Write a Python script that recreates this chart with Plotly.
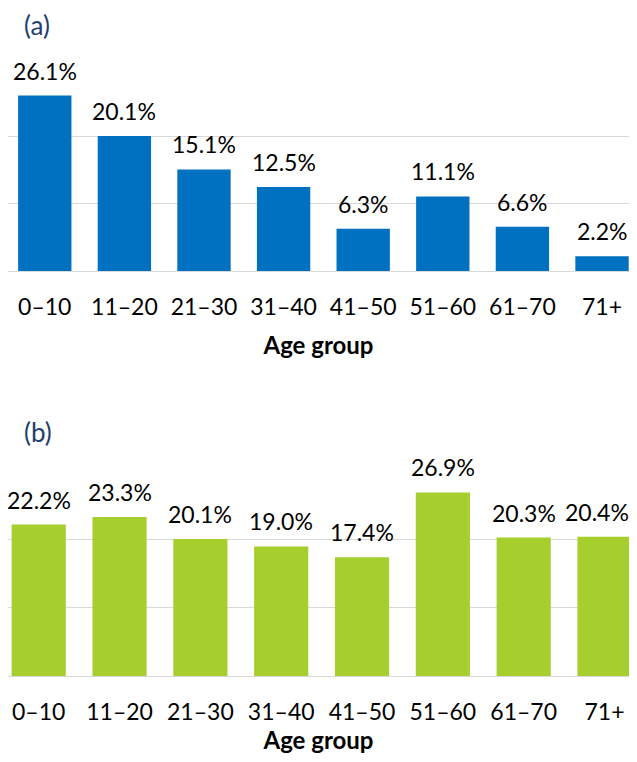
import plotly.graph_objects as go

# age groups and share per group, panel (a) and panel (b)
groups = ["0–10", "11–20", "21–30", "31–40", "41–50", "51–60", "61–70", "71+"]
share_a = [26.1, 20.1, 15.1, 12.5, 6.3, 11.1, 6.6, 2.2]
share_b = [22.2, 23.3, 20.1, 19.0, 17.4, 26.9, 20.3, 20.4]

# page body has an 8px margin, so the figure is sized to fit inside it
W, H = 621, 746
OFF = 8
FONT = "Lato"
FS = 23
GRID = "#D9D9D9"


def py(p):
    # reference pixel row -> paper fraction
    return 1 - (p - OFF) / H


fig = go.Figure()
fig.add_bar(x=groups, y=share_a, marker_color="#0070C0", marker_line_width=0,
            width=0.67, xaxis="x", yaxis="y", showlegend=False)
fig.add_bar(x=groups, y=share_b, marker_color="#A6CE2C", marker_line_width=0,
            width=0.67, xaxis="x2", yaxis="y2", showlegend=False)

# value labels sit above each bar (last one in (b) nudged so it isn't clipped)
for xr, yr, vals in (("x", "y", share_a), ("x2", "y2", share_b)):
    for i, (g, v) in enumerate(zip(groups, vals)):
        fig.add_annotation(x=g, y=v, xref=xr, yref=yr, text=f"{v:.1f}%",
                           showarrow=False, yanchor="bottom", yshift=9,
                           xshift=-8 if (xr == "x2" and i == len(groups) - 1) else 0,
                           font=dict(family=FONT, size=FS, color="#000000"))

for lbl, yc in (("(a)", 25), ("(b)", 432)):
    fig.add_annotation(x=(22 - OFF) / W, y=py(yc), xref="paper", yref="paper",
                       text=lbl, showarrow=False, xanchor="left", yanchor="middle",
                       font=dict(family=FONT, size=26, color="#1F3F6E"))

xcommon = dict(showgrid=False, showline=False, zeroline=False, ticks="",
               automargin=False,
               tickfont=dict(family=FONT, size=FS, color="#000000"),
               ticklabelstandoff=20,
               title=dict(text="<b>Age group</b>", standoff=18,
                          font=dict(family=FONT, size=24, color="#000000")))
ycommon = dict(range=[0, 30.05], dtick=10, showticklabels=False, showgrid=True,
               automargin=False,
               gridcolor=GRID, gridwidth=1.3, zeroline=True, zerolinecolor=GRID,
               zerolinewidth=1.3, showline=False, ticks="")

fig.update_layout(
    width=W, height=H,
    margin=dict(l=0, r=0, t=0, b=0),
    plot_bgcolor="white", paper_bgcolor="white",
    barmode="group",
    font=dict(family=FONT),
    xaxis=dict(domain=[0, 1], anchor="y", range=[-0.462, 7.339], **xcommon),
    yaxis=dict(domain=[py(271), py(69)], anchor="x", **ycommon),
    xaxis2=dict(domain=[0, 1], anchor="y2", range=[-0.380, 7.303], **xcommon),
    yaxis2=dict(domain=[py(676), py(471)], anchor="x2", **ycommon),
)

fig.write_html("out.html")
